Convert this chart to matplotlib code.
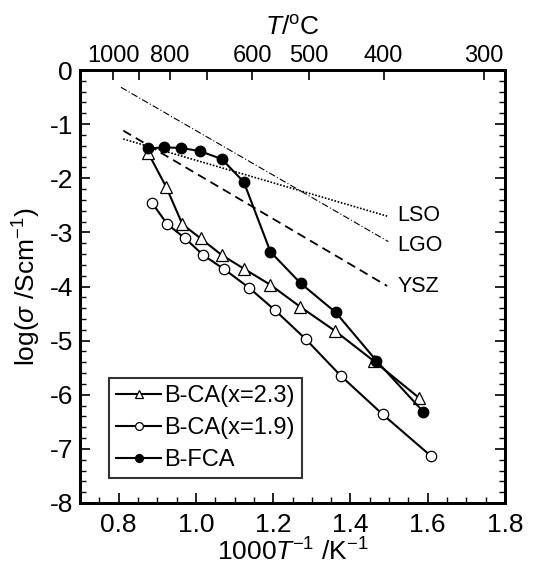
import matplotlib
matplotlib.use("Agg")
import matplotlib.pyplot as plt
from matplotlib.ticker import MultipleLocator, FixedLocator

plt.rcParams['font.family'] = ['Liberation Sans', 'DejaVu Sans']
plt.rcParams['mathtext.fontset'] = 'custom'
plt.rcParams['mathtext.rm'] = 'Liberation Sans'
plt.rcParams['mathtext.it'] = 'Liberation Sans:italic'
plt.rcParams['mathtext.default'] = 'regular'
plt.rcParams['axes.unicode_minus'] = False

# Data
fca_x = [0.877, 0.917, 0.962, 1.011, 1.067, 1.124, 1.193, 1.271, 1.362, 1.467, 1.588]
fca_y = [-1.45, -1.43, -1.44, -1.50, -1.645, -2.07, -3.36, -3.94, -4.48, -5.37, -6.31]

ca23_x = [0.877, 0.923, 0.965, 1.012, 1.067, 1.124, 1.193, 1.269, 1.360, 1.461, 1.578]
ca23_y = [-1.54, -2.16, -2.85, -3.11, -3.42, -3.67, -3.97, -4.37, -4.82, -5.38, -6.06]

ca19_x = [0.886, 0.926, 0.972, 1.019, 1.073, 1.137, 1.205, 1.284, 1.375, 1.483, 1.608]
ca19_y = [-2.45, -2.85, -3.11, -3.42, -3.68, -4.02, -4.44, -4.97, -5.65, -6.36, -7.13]

lso_x = [0.812, 1.495]
lso_y = [-1.275, -2.70]
lgo_x = [0.806, 1.498]
lgo_y = [-0.32, -3.17]
ysz_x = [0.812, 1.495]
ysz_y = [-1.12, -3.99]

ref_labels = ['LSO', 'LGO', 'YSZ']
ref_label_y = [-2.68, -3.25, -4.0]

top_T = [1000, 900, 800, 700, 600, 500, 400, 300]
top_labeled = [1000, 800, 600, 500, 400, 300]

FS_TICK = 19
FS_TOP = 17
FS_LAB = 19
FS_LEG = 17
FS_REF = 15.5

fig = plt.figure(figsize=(5.33, 5.72), dpi=100)
ax = fig.add_axes([80/533, 1-503/572, 425/533, 433/572])

lw = 1.5
ax.plot(lso_x, lso_y, color='black', lw=1.2, ls=(0, (1, 1)))
ax.plot(lgo_x, lgo_y, color='black', lw=0.8, ls=(0, (6, 2, 1, 2)))
ax.plot(ysz_x, ysz_y, color='black', lw=1.3, ls=(0, (5, 3)))
for lab, yy in zip(ref_labels, ref_label_y):
    ax.text(1.522, yy, lab, fontsize=FS_REF, va='center', ha='left')

ax.plot(ca23_x, ca23_y, color='black', lw=lw, marker='^', ms=8, mfc='white', mec='black', mew=0.9,
        label='B-CA(x=2.3)')
ax.plot(ca19_x, ca19_y, color='black', lw=lw, marker='o', ms=7.5, mfc='white', mec='black', mew=0.9,
        label='B-CA(x=1.9)')
ax.plot(fca_x, fca_y, color='black', lw=lw, marker='o', ms=7.5, mfc='black', mec='black',
        label='B-FCA')

ax.set_xlim(0.7, 1.8)
ax.set_ylim(-8, 0)
ax.xaxis.set_major_locator(MultipleLocator(0.2))
ax.xaxis.set_minor_locator(MultipleLocator(0.05))
ax.yaxis.set_major_locator(MultipleLocator(1))
ax.yaxis.set_minor_locator(MultipleLocator(0.2))
ax.xaxis.set_major_formatter(matplotlib.ticker.FormatStrFormatter('%.1f'))
ax.yaxis.set_major_formatter(matplotlib.ticker.FormatStrFormatter('%d'))
ax.tick_params(which='both', direction='in', right=True, top=False, labelsize=FS_TICK)
ax.tick_params(which='major', length=7, width=1.2, pad=5)
ax.tick_params(axis='x', which='major', pad=7)
ax.tick_params(which='minor', length=4, width=1.0)
for s in ax.spines.values():
    s.set_linewidth(2)

ax.set_xlabel(r'1000$\it{T}$$^{-1}$ /K$^{-1}$', fontsize=FS_LAB, labelpad=1)
ax.set_ylabel(r'log($\it{\sigma}$ /Scm$^{-1}$)', fontsize=FS_LAB, labelpad=5)

ax2 = ax.twiny()
ax2.set_xlim(ax.get_xlim())
pos = [1000.0 / (t + 273.15) for t in top_T]
ax2.xaxis.set_major_locator(FixedLocator(pos))
ax2.set_xticklabels([str(t) if t in top_labeled else '' for t in top_T])
ax2.tick_params(which='major', direction='in', length=7, width=1.2, labelsize=FS_TOP, pad=2)
ax2.set_xlabel(r'$\it{T}$/$^{\rm{o}}$C', fontsize=FS_LAB)
ax2.xaxis.set_label_coords(0.5, 1.082)
for s in ax2.spines.values():
    s.set_linewidth(2)

leg = ax.legend(loc='lower left', bbox_to_anchor=(29/425, 25/433), fontsize=FS_LEG, frameon=True,
                fancybox=False, edgecolor='black', handlelength=1.9, borderpad=0.3,
                labelspacing=0.42, handletextpad=0.15, borderaxespad=0, markerscale=0.75)
leg.get_frame().set_linewidth(1.5)

fig.savefig('out.png', dpi=100)
